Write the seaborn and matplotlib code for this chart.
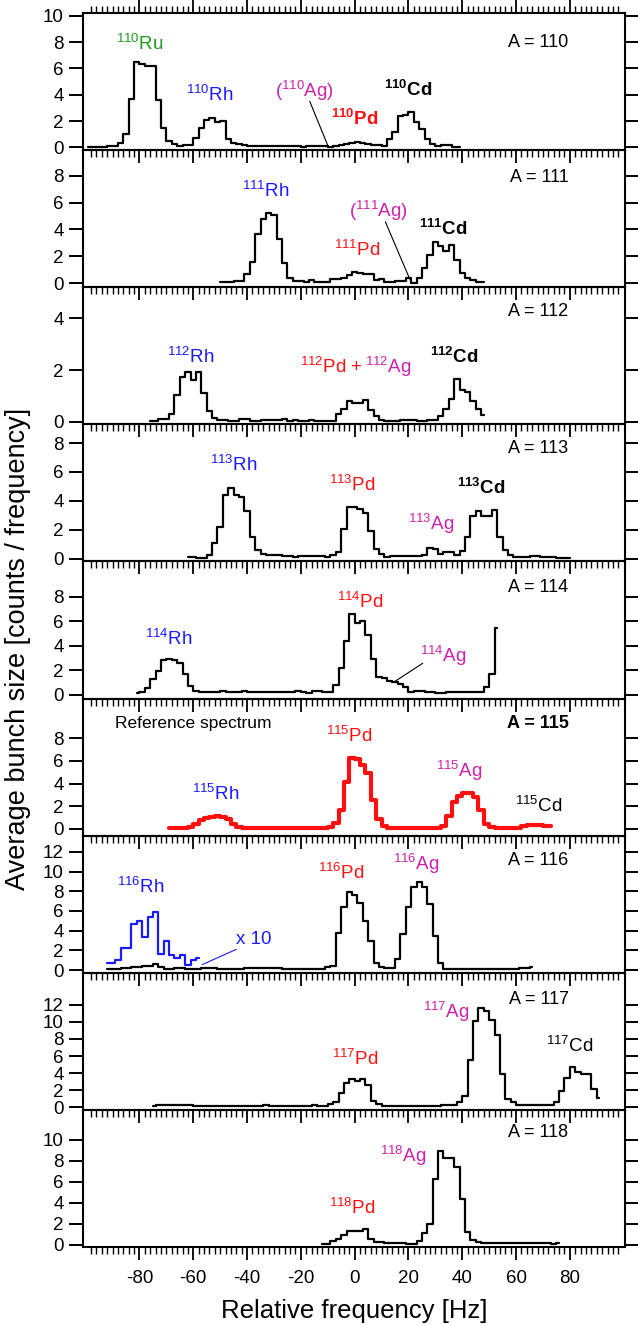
import numpy as np
import matplotlib
matplotlib.use("Agg")
import matplotlib.pyplot as plt
import seaborn as sns
from matplotlib.ticker import FixedLocator

# ---------------- data (2 Hz bins) ----------------
a110_start = -99
a110 = [0.05, 0.05, 0.05, 0.06, 0.12, 0.12, 0.35, 1.05, 3.7, 6.45,
        6.35, 6.2, 6.2, 3.6, 1.5, 0.5, 0.3, 0.1, 0.15, 0.15,
        0.75, 1.5, 2.1, 2.25, 1.95, 2.0, 0.65, 0.35, 0.25, 0.15,
        0.1, 0.1, 0.08, 0.1, 0.12, 0.1, 0.08, 0.1, 0.1, 0.08,
        0.05, 0.1, 0.12, 0.1, 0.08, 0.03, 0.1, 0.2, 0.3, 0.35,
        0.38, 0.33, 0.3, 0.2, 0.15, 0.1, 0.65, 1.15, 2.4, 2.5,
        2.7, 1.9, 1.4, 0.65, 0.3, 0.12, 0.17, 0.15, 0.05, 0.05]

a111_start = -50
a111 = [0.07, 0.07, 0.07, 0.17, 0.17, 0.66, 1.55, 3.67, 4.77, 5.25,
        5.06, 3.3, 1.47, 0.37, 0.17, 0.17, 0.12, 0.22, 0.12, 0.12,
        0.12, 0.29, 0.29, 0.42, 0.6, 0.83, 0.78, 0.71, 0.71, 0.24,
        0.29, 0.12, 0.12, 0.17, 0.17, 0.37, 0.05, 0.37, 1.1, 2.08,
        3.06, 2.76, 2.37, 2.86, 1.7, 0.73, 0.37, 0.24, 0.12, 0.12]

a112_start = -76
a112 = [0.03, 0.03, 0.1, 0.1, 0.3, 1.03, 1.72, 1.93, 1.6, 1.94,
        1.12, 0.41, 0.13, 0.07, 0.07, 0.04, 0.04, 0.09, 0.09, 0.04,
        0.04, 0.08, 0.06, 0.05, 0.08, 0.1, 0.04, 0.05, 0.04, 0.03,
        0.05, 0.04, 0.03, 0.04, 0.04, 0.3, 0.48, 0.79, 0.74, 0.74,
        0.83, 0.46, 0.24, 0.08, 0.04, 0.04, 0.04, 0.05, 0.07, 0.07,
        0.04, 0.04, 0.05, 0.06, 0.24, 0.5, 0.86, 1.65, 1.23, 1.15,
        0.81, 0.48, 0.28]

a113_start = -62
a113 = [0.09, 0.09, 0.05, 0.05, 0.23, 1.1, 2.2, 4.37, 4.89, 4.42,
        4.26, 3.32, 1.52, 0.58, 0.33, 0.26, 0.26, 0.26, 0.21, 0.21,
        0.12, 0.19, 0.19, 0.19, 0.17, 0.19, 0.14, 0.26, 0.47, 2.03,
        3.6, 3.6, 3.44, 3.13, 1.92, 0.63, 0.33, 0.12, 0.16, 0.16,
        0.16, 0.16, 0.16, 0.16, 0.28, 0.75, 0.63, 0.35, 0.42, 0.42,
        0.28, 0.51, 1.5, 2.97, 3.27, 2.97, 2.97, 3.37, 1.5, 0.56,
        0.23, 0.12, 0.12, 0.12, 0.16, 0.16, 0.12, 0.12, 0.12, 0.05,
        0.05, 0.05]

a114_start = -81
a114 = [0.16, 0.21, 0.54, 1.29, 1.96, 2.82, 2.9, 2.82, 2.58, 1.69,
        0.7, 0.35, 0.21, 0.27, 0.27, 0.27, 0.3, 0.21, 0.21, 0.21,
        0.35, 0.27, 0.27, 0.27, 0.27, 0.21, 0.21, 0.21, 0.21, 0.21,
        0.3, 0.21, 0.13, 0.3, 0.3, 0.21, 0.21, 0.8, 2.23, 4.38,
        6.6, 5.9, 6.04, 4.89, 2.9, 1.5, 1.37, 1.15, 1.07, 0.89,
        0.62, 0.27, 0.3, 0.3, 0.21, 0.21, 0.16, 0.16, 0.21, 0.21,
        0.21, 0.21, 0.21, 0.27, 0.27, 0.62, 1.69, 5.45]

a115_start = -69
a115 = [0.06, 0.06, 0.09, 0.09, 0.2, 0.44, 0.74, 0.97, 1.09, 1.1,
        1.09, 0.88, 0.44, 0.2, 0.09, 0.06, 0.06, 0.06, 0.06, 0.06,
        0.06, 0.06, 0.09, 0.09, 0.09, 0.09, 0.09, 0.09, 0.09, 0.09,
        0.2, 0.53, 1.68, 4.12, 6.24, 6.2, 5.65, 4.94, 2.56, 0.88,
        0.24, 0.06, 0.06, 0.06, 0.06, 0.09, 0.09, 0.09, 0.09, 0.09,
        0.09, 0.29, 1.12, 2.35, 2.88, 3.18, 3.18, 2.79, 1.68, 0.44,
        0.15, 0.06, 0.06, 0.06, 0.06, 0.06, 0.24, 0.38, 0.38, 0.38,
        0.29, 0.29]

a116_start = -92
a116 = [0.1, 0.1, 0.1, 0.2, 0.2, 0.34, 0.34, 0.45, 0.45, 0.62,
        0.31, 0.14, 0.14, 0.2, 0.2, 0.14, 0.14, 0.14, 0.2, 0.2,
        0.2, 0.14, 0.14, 0.14, 0.14, 0.14, 0.2, 0.2, 0.2, 0.2,
        0.2, 0.2, 0.2, 0.14, 0.14, 0.14, 0.14, 0.1, 0.1, 0.1,
        0.1, 0.28, 0.38, 3.72, 6.41, 7.97, 7.62, 6.76, 4.93, 2.97,
        0.72, 0.31, 0.2, 0.2, 1.07, 3.66, 6.41, 8.48, 8.9, 8.48,
        6.69, 3.48, 0.72, 0.1, 0.1, 0.1, 0.1, 0.1, 0.1, 0.1,
        0.14, 0.14, 0.14, 0.14, 0.1, 0.1, 0.1, 0.2, 0.2, 0.34]

# 116Rh region, scaled x 10
a116_rh_start = -92
a116_rh_x10 = [0.72, 0.72, 0.97, 2.2, 2.2, 4.69, 4.93, 3.38, 5.38, 5.9,
               1.66, 2.97, 1.48, 1.24, 1.52, 0.48, 0.97, 1.24]

a117_start = -75
a117 = [0.2, 0.27, 0.24, 0.24, 0.24, 0.24, 0.24, 0.24, 0.2, 0.2,
        0.2, 0.2, 0.2, 0.2, 0.2, 0.2, 0.2, 0.2, 0.2, 0.2,
        0.2, 0.27, 0.2, 0.2, 0.2, 0.2, 0.2, 0.2, 0.2, 0.2,
        0.27, 0.2, 0.2, 0.35, 0.59, 1.65, 2.9, 3.37, 3.06, 3.37,
        2.59, 0.8, 0.35, 0.2, 0.2, 0.2, 0.2, 0.2, 0.2, 0.2,
        0.2, 0.2, 0.2, 0.2, 0.27, 0.27, 0.27, 0.59, 1.33, 5.57,
        10.04, 11.6, 11.2, 10.2, 8.47, 3.88, 1.02, 0.59, 0.31, 0.31,
        0.27, 0.27, 0.27, 0.31, 0.31, 0.67, 1.96, 3.49, 4.67, 4.16,
        3.88, 3.88, 2.2, 1.06]

a118_start = -12
a118 = [0.1, 0.1, 0.35, 0.52, 0.9, 1.32, 1.32, 1.26, 1.45, 0.58,
        0.23, 0.23, 0.13, 0.13, 0.16, 0.16, 0.1, 0.1, 0.35, 1.13,
        2.0, 6.29, 8.94, 8.29, 8.29, 7.42, 4.35, 1.23, 0.42, 0.23,
        0.16, 0.16, 0.16, 0.13, 0.13, 0.16, 0.16, 0.16, 0.19, 0.19,
        0.19, 0.19, 0.19, 0.03, 0.19]

masses = [110, 111, 112, 113, 114, 115, 116, 117, 118]
starts = [a110_start, a111_start, a112_start, a113_start, a114_start,
          a115_start, a116_start, a117_start, a118_start]
spectra = [a110, a111, a112, a113, a114, a115, a116, a117, a118]
bin_width = 2

ytick_tops = [10, 8, 4, 8, 8, 8, 12, 12, 10]
ylims = [(-0.2, 10.2), (-0.3, 9.9), (-0.1, 5.2), (-0.2, 9.3), (-0.3, 10.9),
         (-0.6, 11.5), (-0.28, 13.65), (-0.28, 15.7), (-0.23, 12.85)]

# ---------------- style ----------------
sns.set_style("ticks", {"axes.edgecolor": "black", "xtick.color": "black",
                        "ytick.color": "black", "text.color": "black",
                        "axes.labelcolor": "black"})
plt.rcParams["font.family"] = ["Liberation Sans", "DejaVu Sans"]
plt.rcParams["mathtext.fontset"] = "custom"
plt.rcParams["mathtext.rm"] = "Liberation Sans"
plt.rcParams["mathtext.bf"] = "Liberation Sans:bold"
plt.rcParams["axes.unicode_minus"] = False

GREEN = "#1c9c1c"
BLUE = "#1a1aff"
MAG = "#cc22aa"
RED = "#ff1010"
LBL = 13.5


def iso(mass, sym):
    return r"$^{\mathregular{%d}}$%s" % (mass, sym)


# label annotations: (x, y, text, color, weight, ha)
labels = {
    110: [(-80, 7.4, iso(110, "Ru"), GREEN, "normal", "center"),
          (-54, 3.5, iso(110, "Rh"), BLUE, "normal", "center"),
          (-18.6, 3.8, "(" + iso(110, "Ag") + ")", MAG, "normal", "center"),
          (0, 1.7, iso(110, "Pd"), RED, "bold", "center"),
          (20, 3.9, iso(110, "Cd"), "black", "bold", "center")],
    111: [(-33, 6.4, iso(111, "Rh"), BLUE, "normal", "center"),
          (9, 4.9, "(" + iso(111, "Ag") + ")", MAG, "normal", "center"),
          (1, 2.0, iso(111, "Pd"), RED, "normal", "center"),
          (33, 3.55, iso(111, "Cd"), "black", "bold", "center")],
    112: [(-61, 2.28, iso(112, "Rh"), BLUE, "normal", "center"),
          (3.1, 1.89, iso(112, "Pd") + " +", RED, "normal", "right"),
          (3.9, 1.89, iso(112, "Ag"), MAG, "normal", "left"),
          (37, 2.28, iso(112, "Cd"), "black", "bold", "center")],
    113: [(-45, 6.06, iso(113, "Rh"), BLUE, "normal", "center"),
          (-1, 4.7, iso(113, "Pd"), RED, "normal", "center"),
          (28.6, 1.96, iso(113, "Ag"), MAG, "normal", "center"),
          (47, 4.44, iso(113, "Cd"), "black", "bold", "center")],
    114: [(-69, 4.1, iso(114, "Rh"), BLUE, "normal", "center"),
          (2, 7.06, iso(114, "Pd"), RED, "normal", "center"),
          (33, 2.68, iso(114, "Ag"), MAG, "normal", "center")],
    115: [(-51.5, 2.56, iso(115, "Rh"), BLUE, "normal", "center"),
          (-2, 7.65, iso(115, "Pd"), RED, "normal", "center"),
          (39, 4.56, iso(115, "Ag"), MAG, "normal", "center"),
          (68.5, 1.47, iso(115, "Cd"), "black", "normal", "center")],
    116: [(-79.5, 7.8, iso(116, "Rh"), BLUE, "normal", "center"),
          (-44, 2.6, "x 10", BLUE, "normal", "left"),
          (-5, 9.24, iso(116, "Pd"), RED, "normal", "center"),
          (22.7, 10.2, iso(116, "Ag"), MAG, "normal", "center")],
    117: [(0, 4.94, iso(117, "Pd"), RED, "normal", "center"),
          (34, 10.4, iso(117, "Ag"), MAG, "normal", "center"),
          (80, 6.43, iso(117, "Cd"), "black", "normal", "center")],
    118: [(-1, 2.9, iso(118, "Pd"), RED, "normal", "center"),
          (18, 7.9, iso(118, "Ag"), MAG, "normal", "center")],
}
a_label_y = [7.6, 7.5, 4.1, 7.3, 8.4, 8.9, 10.7, 12.1, 10.3]

# pointer lines: (x0, y0, x1, y1, color)
pointers = {
    110: [(-16.7, 3.5, -9.7, 0.0, "black")],
    111: [(11.4, 4.57, 20.5, 0.3, "black")],
    114: [(25.3, 2.58, 14.4, 1.02, "black")],
    116: [(-56.7, 0.55, -44, 2.1, BLUE)],
}

# ---------------- figure ----------------
fig = plt.figure(figsize=(6.38, 13.26), dpi=100)
fig.patch.set_facecolor("white")
gs = fig.add_gridspec(9, 1, left=83 / 638, right=625 / 638,
                      top=1 - 13 / 1326, bottom=1 - 1247 / 1326, hspace=0)

for i, (mass, start, vals) in enumerate(zip(masses, starts, spectra)):
    ax = fig.add_subplot(gs[i])
    ax.set_facecolor("none")
    x = start + bin_width * np.arange(len(vals))
    is_ref = mass == 115
    sns.lineplot(x=x, y=np.array(vals), ax=ax, drawstyle="steps-mid",
                 color=RED if is_ref else "black",
                 linewidth=3.0 if is_ref else 1.6, errorbar=None)
    if mass == 116:
        xr = a116_rh_start + bin_width * np.arange(len(a116_rh_x10))
        sns.lineplot(x=xr, y=np.array(a116_rh_x10), ax=ax,
                     drawstyle="steps-mid", color=BLUE, linewidth=1.6,
                     errorbar=None)

    ax.set_xlim(-101, 100.5)
    ax.set_ylim(*ylims[i])
    ax.set_xlabel("")
    ax.set_ylabel("")
    ax.xaxis.set_major_locator(FixedLocator(np.arange(-80, 81, 20)))
    ax.xaxis.set_minor_locator(FixedLocator(np.arange(-98, 99, 2)))
    ax.set_yticks(np.arange(0, ytick_tops[i] + 1, 2))

    for sp in ax.spines.values():
        sp.set_linewidth(1.5)
        sp.set_visible(True)

    ax.tick_params(axis="y", which="major", left=True, right=True,
                   direction="out", length=10, width=1.4,
                   labelsize=13.5, pad=4)
    ax.tick_params(axis="x", which="major", bottom=True, top=(i == 0),
                   direction="out", length=9.5, width=1.3,
                   labelbottom=(i == 8), labelsize=13.5, pad=7)
    ax.tick_params(axis="x", which="minor", bottom=True, top=(i == 0),
                   direction="out", length=5, width=1.0)

    for (tx, ty, s, c, w, ha) in labels[mass]:
        ax.text(tx, ty, s, color=c, fontweight=w, ha=ha, va="baseline",
                fontsize=LBL)
    ax.text(79.5, a_label_y[i], "A = %d" % mass, ha="right", va="baseline",
            fontsize=13, fontweight="bold" if is_ref else "normal")
    if is_ref:
        ax.text(-89, 8.9, "Reference spectrum", ha="left", va="baseline",
                fontsize=12.5)
    for (x0, y0, x1, y1, c) in pointers.get(mass, []):
        ax.plot([x0, x1], [y0, y1], color=c, linewidth=0.8)

fig.text(354 / 638, 1 - 1311 / 1326, "Relative frequency [Hz]",
         ha="center", va="center", fontsize=18.5)
fig.text(18 / 638, 1 - 649 / 1326, "Average bunch size [counts / frequency]",
         ha="center", va="center", rotation=90, fontsize=19.5)

fig.savefig("out.png", dpi=100, facecolor="white")
